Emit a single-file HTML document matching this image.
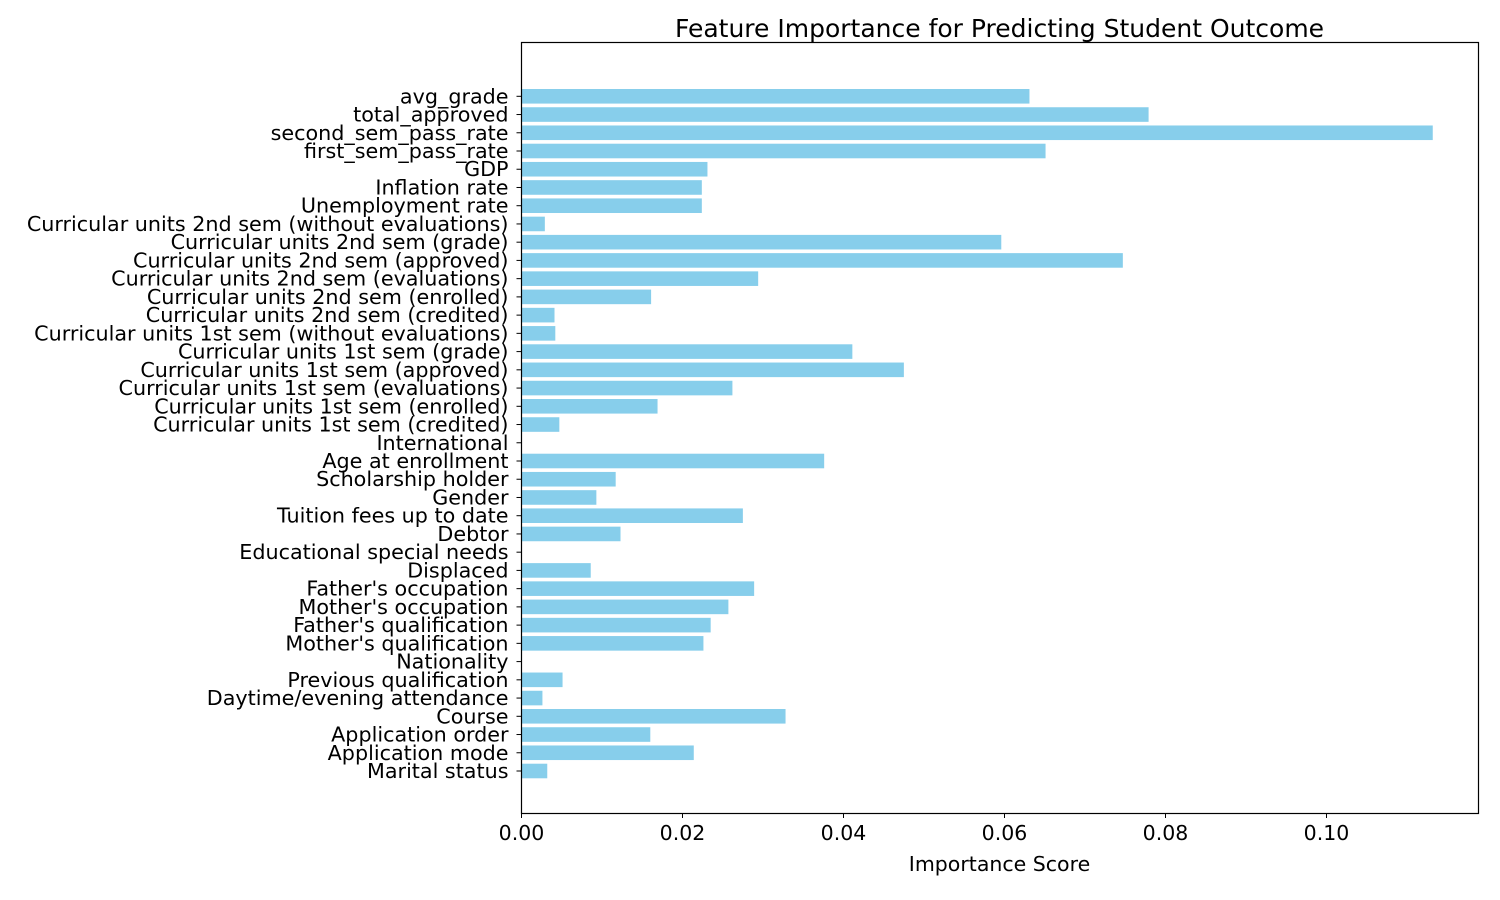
<!DOCTYPE html>
<html><head><meta charset="utf-8"><style>
html,body{margin:0;padding:0;background:#fff;}
svg{display:block;font-family:"DejaVu Sans","Liberation Sans",sans-serif;}
</style></head><body>
<svg id="chart" width="1500" height="900" viewBox="0 0 1500 900" xmlns="http://www.w3.org/2000/svg">
<rect width="1500" height="900" fill="#fff"/>
<text x="999.5" y="37" text-anchor="middle" font-size="25">Feature Importance for Predicting Student Outcome</text>
<text x="999.5" y="871" text-anchor="middle" font-size="20.5">Importance Score</text>
<g id="bars"></g><g id="yticks"></g><g id="xticks"></g>
<rect x="521.5" y="42.5" width="957" height="771" fill="none" stroke="#000" stroke-width="1.2"/>
</svg>
<script>
const categories = ["Marital status","Application mode","Application order","Course","Daytime/evening attendance","Previous qualification","Nationality","Mother's qualification","Father's qualification","Mother's occupation","Father's occupation","Displaced","Educational special needs","Debtor","Tuition fees up to date","Gender","Scholarship holder","Age at enrollment","International","Curricular units 1st sem (credited)","Curricular units 1st sem (enrolled)","Curricular units 1st sem (evaluations)","Curricular units 1st sem (approved)","Curricular units 1st sem (grade)","Curricular units 1st sem (without evaluations)","Curricular units 2nd sem (credited)","Curricular units 2nd sem (enrolled)","Curricular units 2nd sem (evaluations)","Curricular units 2nd sem (approved)","Curricular units 2nd sem (grade)","Curricular units 2nd sem (without evaluations)","Unemployment rate","Inflation rate","GDP","first_sem_pass_rate","second_sem_pass_rate","total_approved","avg_grade"];
const importances = [0.0032,0.0214,0.0160,0.0328,0.0026,0.0051,0,0.0226,0.0235,0.0257,0.0289,0.0086,0,0.0123,0.0275,0.0093,0.0117,0.0376,0,0.0047,0.0169,0.0262,0.0475,0.0411,0.0042,0.0041,0.0161,0.0294,0.0747,0.0596,0.0029,0.0224,0.0224,0.0231,0.0651,0.1132,0.0779,0.0631];
const xTicks = [0,0.02,0.04,0.06,0.08,0.10];
const xTickLabels = ["0.00","0.02","0.04","0.06","0.08","0.10"];
const NS="http://www.w3.org/2000/svg";
const x0=521.5, pxPerUnit=8050;
const xScale=v=>x0+v*pxPerUnit;
const yTop=96.3, yBot=771, step=(yBot-yTop)/(categories.length-1);
const yScale=i=>yBot-i*step;
const bh=step*0.8;
const bars=document.getElementById('bars'), yt=document.getElementById('yticks'), xt=document.getElementById('xticks');
categories.forEach((c,i)=>{
  const y=yScale(i);
  const r=document.createElementNS(NS,'rect');
  
  
  r.setAttribute('x',x0);r.setAttribute('y',y-bh/2);
  r.setAttribute('width',Math.max(0,xScale(importances[i])-x0));r.setAttribute('height',bh);
  r.setAttribute('fill','#87ceeb');bars.appendChild(r);
  const l=document.createElementNS(NS,'line');
  
  
  l.setAttribute('x1',x0);l.setAttribute('x2',x0-5);l.setAttribute('y1',y);l.setAttribute('y2',y);
  l.setAttribute('stroke','#000');yt.appendChild(l);
  const t=document.createElementNS(NS,'text');
  
  
  t.setAttribute('x',x0-13);t.setAttribute('y',y+7);t.setAttribute('text-anchor','end');
  t.setAttribute('font-size','20.7');t.textContent=c;yt.appendChild(t);
});
xTicks.forEach((v,i)=>{
  const x=xScale(v);
  const l=document.createElementNS(NS,'line');
  
  
  l.setAttribute('x1',x);l.setAttribute('x2',x);l.setAttribute('y1',813);l.setAttribute('y2',818);
  l.setAttribute('stroke','#000');xt.appendChild(l);
  const t=document.createElementNS(NS,'text');
  
  
  t.setAttribute('x',x);t.setAttribute('y',840);t.setAttribute('text-anchor','middle');
  t.setAttribute('font-size','20.5');t.textContent=xTickLabels[i];xt.appendChild(t);
});
</script>
</body></html>
